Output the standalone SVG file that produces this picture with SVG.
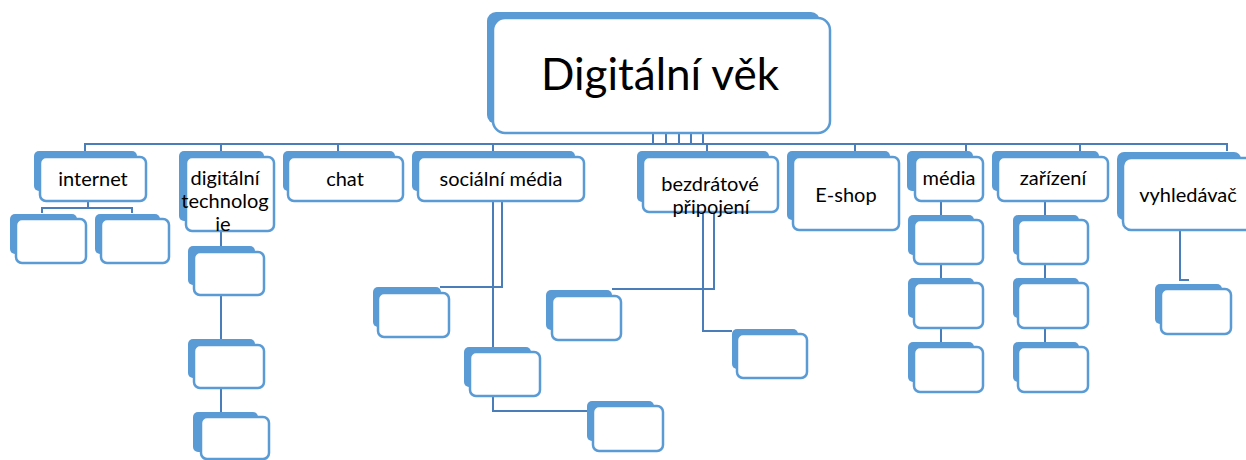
<svg xmlns="http://www.w3.org/2000/svg" width="1246" height="460" viewBox="0 0 1246 460">
<style>
.bk{fill:#5B9BD5}
.fr{fill:#ffffff;stroke:#5B9BD5;stroke-width:2.5}
.cn{fill:none;stroke:#4A7EBB;stroke-width:2}
.t{font-family:Lato,"Open Sans","Liberation Sans",sans-serif;font-size:20px;fill:#000;text-anchor:middle}
.tt{font-family:Lato,"Open Sans","Liberation Sans",sans-serif;font-size:44px;fill:#000;text-anchor:middle}
</style>
<rect width="1246" height="460" fill="#ffffff"/>
<g id="connectors">
<path class="cn" d="M85 151V144H1227V151"/>
<path class="cn" d="M221 144V151M338 144V151M493 144V151M707 144V151M855 144V151M966 144V151M1080 144V151"/>
<path class="cn" d="M653 133V144M666 133V144M679 133V144M691 133V144M703 133V144"/>
<path class="cn" d="M88 201V208M42 213V208H132V213"/>
<path class="cn" d="M221 231V246M221 295V339M221 388V412"/>
<path class="cn" d="M502 201V287H440M493 201V347M493 396V411H587"/>
<path class="cn" d="M714 212V289H612M703 212V331H732"/>
<path class="cn" d="M941 201V215M941 264V278M941 328V342"/>
<path class="cn" d="M1045 201V215M1045 264V278M1045 328V342"/>
<path class="cn" d="M1180 230V280H1189"/>
</g>
<g id="root">
<rect class="bk" x="487" y="12" width="333" height="112" rx="9"/>
<rect class="fr" x="493" y="18" width="337" height="115" rx="12"/>
<text class="tt" x="660" y="90">Digitální věk</text>
</g>
<g id="internet">
<rect class="bk" x="34" y="151" width="103" height="40" rx="5"/>
<rect class="fr" x="40" y="157" width="106" height="44" rx="6"/>
<text class="t" x="93" y="186">internet</text>
</g>
<g id="internet-1">
<rect class="bk" x="10" y="214" width="67" height="40" rx="5"/>
<rect class="fr" x="16" y="219" width="70" height="44" rx="6"/>
</g>
<g id="internet-2">
<rect class="bk" x="95" y="214" width="65" height="40" rx="5"/>
<rect class="fr" x="101" y="219" width="68" height="44" rx="6"/>
</g>
<g id="digitalni-technologie">
<rect class="bk" x="179" y="151" width="85" height="70" rx="5"/>
<rect class="fr" x="186" y="157" width="88" height="74" rx="6"/>
<text class="t" x="225" y="185">digitální</text>
<text class="t" x="225" y="208">technolog</text>
<text class="t" x="223" y="231">ie</text>
</g>
<g id="dt-1">
<rect class="bk" x="188" y="246" width="67" height="39" rx="5"/>
<rect class="fr" x="194" y="252" width="70" height="43" rx="6"/>
</g>
<g id="dt-2">
<rect class="bk" x="188" y="339" width="67" height="39" rx="5"/>
<rect class="fr" x="194" y="345" width="70" height="43" rx="6"/>
</g>
<g id="dt-3">
<rect class="bk" x="193" y="412" width="65" height="40" rx="5"/>
<rect class="fr" x="201" y="417" width="68" height="42" rx="6"/>
</g>
<g id="chat">
<rect class="bk" x="283" y="151" width="112" height="40" rx="5"/>
<rect class="fr" x="288" y="157" width="115" height="44" rx="6"/>
<text class="t" x="345" y="186">chat</text>
</g>
<g id="socialni-media">
<rect class="bk" x="412" y="151" width="163" height="40" rx="5"/>
<rect class="fr" x="418" y="157" width="166" height="44" rx="6"/>
<text class="t" x="501" y="186">sociální média</text>
</g>
<g id="sm-1">
<rect class="bk" x="373" y="287" width="68" height="40" rx="5"/>
<rect class="fr" x="378" y="293" width="71" height="44" rx="6"/>
</g>
<g id="sm-2">
<rect class="bk" x="464" y="347" width="67" height="40" rx="5"/>
<rect class="fr" x="470" y="352" width="70" height="44" rx="6"/>
</g>
<g id="sm-3">
<rect class="bk" x="587" y="401" width="67" height="40" rx="5"/>
<rect class="fr" x="593" y="406" width="70" height="45" rx="6"/>
</g>
<g id="bezdratove-pripojeni">
<rect class="bk" x="637" y="151" width="132" height="51" rx="5"/>
<rect class="fr" x="643" y="157" width="135" height="55" rx="6"/>
<text class="t" x="710" y="191">bezdrátové</text>
<text class="t" x="711" y="214">připojení</text>
</g>
<g id="bp-1">
<rect class="bk" x="546" y="290" width="66" height="40" rx="5"/>
<rect class="fr" x="552" y="296" width="69" height="44" rx="6"/>
</g>
<g id="bp-2">
<rect class="bk" x="732" y="329" width="66" height="40" rx="5"/>
<rect class="fr" x="737" y="334" width="70" height="44" rx="6"/>
</g>
<g id="e-shop">
<rect class="bk" x="787" y="151" width="103" height="69" rx="5"/>
<rect class="fr" x="793" y="157" width="106" height="73" rx="6"/>
<text class="t" x="846" y="202">E-shop</text>
</g>
<g id="media">
<rect class="bk" x="907" y="151" width="66" height="40" rx="5"/>
<rect class="fr" x="915" y="157" width="68" height="44" rx="6"/>
<text class="t" x="949" y="185">média</text>
</g>
<g id="media-1">
<rect class="bk" x="908" y="215" width="66" height="40" rx="5"/>
<rect class="fr" x="914" y="220" width="69" height="44" rx="6"/>
</g>
<g id="media-2">
<rect class="bk" x="908" y="278" width="66" height="40" rx="5"/>
<rect class="fr" x="914" y="283" width="69" height="45" rx="6"/>
</g>
<g id="media-3">
<rect class="bk" x="908" y="342" width="66" height="40" rx="5"/>
<rect class="fr" x="914" y="347" width="69" height="45" rx="6"/>
</g>
<g id="zarizeni">
<rect class="bk" x="992" y="151" width="107" height="40" rx="5"/>
<rect class="fr" x="998" y="157" width="110" height="44" rx="6"/>
<text class="t" x="1053" y="185">zařízení</text>
</g>
<g id="zarizeni-1">
<rect class="bk" x="1013" y="215" width="66" height="40" rx="5"/>
<rect class="fr" x="1018" y="220" width="70" height="44" rx="6"/>
</g>
<g id="zarizeni-2">
<rect class="bk" x="1013" y="278" width="66" height="40" rx="5"/>
<rect class="fr" x="1018" y="283" width="70" height="45" rx="6"/>
</g>
<g id="zarizeni-3">
<rect class="bk" x="1013" y="342" width="66" height="40" rx="5"/>
<rect class="fr" x="1018" y="347" width="70" height="45" rx="6"/>
</g>
<g id="vyhledavac">
<rect class="bk" x="1117" y="152" width="124" height="68" rx="7"/>
<rect class="fr" x="1123" y="158" width="130" height="72" rx="8"/>
<text class="t" x="1188" y="202">vyhledávač</text>
</g>
<g id="vyhledavac-1">
<rect class="bk" x="1155" y="284" width="67" height="40" rx="5"/>
<rect class="fr" x="1161" y="289" width="70" height="45" rx="6"/>
</g>
</svg>
